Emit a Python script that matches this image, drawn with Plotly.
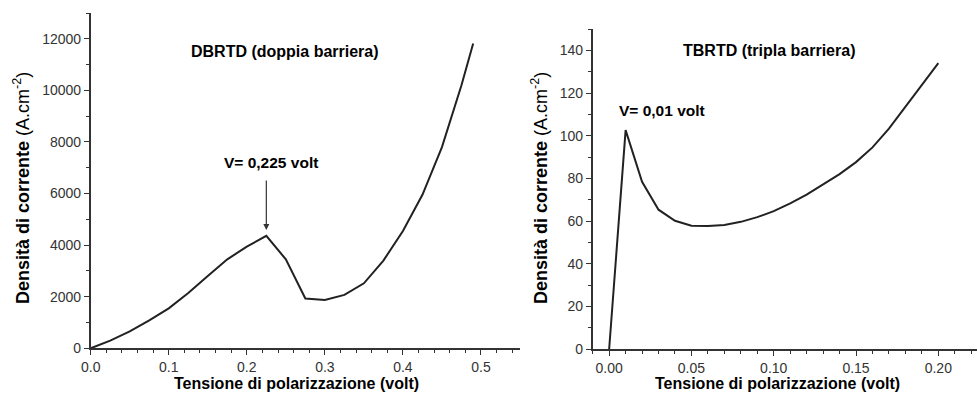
import plotly.graph_objects as go

# Double-barrier RTD: bias (V) vs current density (A/cm^2)
dbrtd_v = [0.0, 0.025, 0.05, 0.075, 0.1, 0.125, 0.15, 0.175, 0.2, 0.225,
           0.25, 0.275, 0.3, 0.325, 0.35, 0.375, 0.4, 0.425, 0.45, 0.475, 0.49]
dbrtd_j = [0, 300, 660, 1080, 1550, 2140, 2800, 3450, 3940, 4360,
           3450, 1930, 1870, 2070, 2520, 3400, 4550, 5950, 7800, 10200, 11820]

# Triple-barrier RTD
tbrtd_v = [0.0, 0.01, 0.02, 0.03, 0.04, 0.05, 0.06, 0.07, 0.08, 0.09, 0.10,
           0.11, 0.12, 0.13, 0.14, 0.15, 0.16, 0.17, 0.18, 0.19, 0.20]
tbrtd_j = [0, 102.6, 78.4, 65.3, 60.1, 57.8, 57.6, 58.1, 59.6, 61.8, 64.6,
           68.3, 72.4, 77.0, 82.0, 87.6, 94.5, 103.3, 113.5, 123.8, 134.0]

dbrtd_peak_v = 0.225
dbrtd_peak_j = 4360

W, H = 977, 395
FONT = "Arial, 'Liberation Sans', sans-serif"
AX = "#333333"


def px(x):
    return x / W


def py(y):
    return 1 - y / H


fig = go.Figure()
fig.add_trace(go.Scatter(x=dbrtd_v, y=dbrtd_j, mode="lines",
                         line=dict(color="#222222", width=2),
                         xaxis="x", yaxis="y", showlegend=False))
fig.add_trace(go.Scatter(x=tbrtd_v, y=tbrtd_j, mode="lines",
                         line=dict(color="#222222", width=2),
                         xaxis="x2", yaxis="y2", showlegend=False))


def axis(domain, rng, dtick, mdtick, fmt, anchor):
    return dict(domain=domain, range=rng, dtick=dtick, tick0=0,
                tickformat=fmt, anchor=anchor, automargin=False,
                showline=True, linecolor=AX, linewidth=1.6,
                ticks="outside", ticklen=5, tickwidth=1.4, tickcolor=AX,
                minor=dict(dtick=mdtick, tick0=0, ticks="outside", ticklen=3,
                           tickwidth=1.2, tickcolor=AX),
                showgrid=False, zeroline=False,
                tickfont=dict(family=FONT, size=14, color="#333333"))


layout = dict(
    width=W, height=H, margin=dict(l=0, r=0, t=0, b=0, autoexpand=False),
    paper_bgcolor="white", plot_bgcolor="white",
    xaxis=axis([px(90.7), px(520)], [0, 0.55], 0.1, 0.02, ".1f", "y"),
    yaxis=axis([py(348.3), py(13)], [0, 13000], 2000, 1000, "d", "x"),
    xaxis2=axis([px(592.7), 1.0], [-0.01, 0.2235], 0.05, 0.01, ".2f", "y2"),
    yaxis2=axis([py(349), py(29)], [0, 150], 20, 10, "d", "x2"),
)
fig.update_layout(**layout)


def label(text, xc, yc, size, angle=0):
    return dict(text=text, x=px(xc), y=py(yc), xref="paper", yref="paper",
                xanchor="center", yanchor="middle", textangle=angle,
                showarrow=False, font=dict(family=FONT, size=size, color="black"))


ylab = "<b>Densità di corrente</b> (A.cm<sup>-2</sup>)"
xlab = "<b>Tensione di polarizzazione (volt)</b>"
ann = [
    label(ylab, 21, 188, 18, -90),
    label(ylab, 539, 188, 18, -90),
    label(xlab, 296, 383, 16),
    label(xlab, 777, 383, 16),
    label("<b>DBRTD (doppia barriera)</b>", 285, 51, 16),
    label("<b>TBRTD (tripla barriera)</b>", 769, 50, 16),
    label("<b>V= 0,225 volt</b>", 271, 162, 15.5),
    label("<b>V= 0,01 volt</b>", 662, 111, 15.5),
]

# arrow pointing at the DBRTD resonance peak
ann.append(dict(x=dbrtd_peak_v, y=dbrtd_peak_j + 230, xref="x", yref="y",
                ax=dbrtd_peak_v, ay=dbrtd_peak_j + 2200, axref="x", ayref="y",
                text="", showarrow=True, arrowhead=2, arrowsize=1,
                arrowwidth=1.2, arrowcolor="#333333"))

fig.update_layout(annotations=ann)
fig.write_html("out.html")
